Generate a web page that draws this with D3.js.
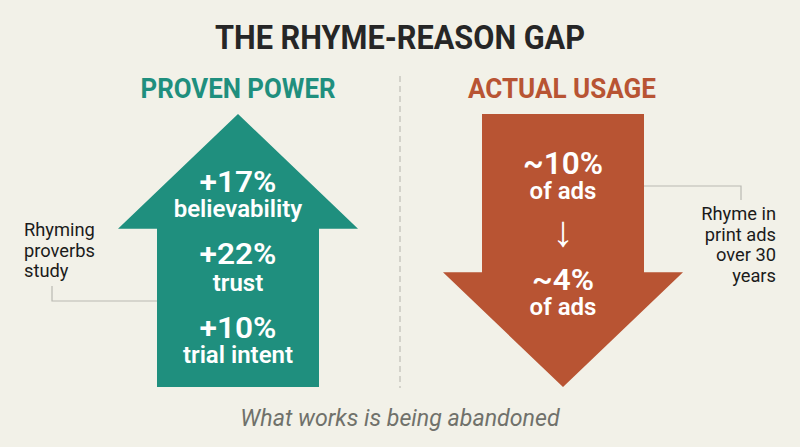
<!DOCTYPE html>
<html>
<head>
<meta charset="utf-8">
<script src="https://cdn.jsdelivr.net/npm/d3@7"></script>
<style>
  html, body { margin: 0; padding: 0; background: #f2f1e8; }
  svg { display: block; }
  text { font-family: Roboto, sans-serif; }
</style>
</head>
<body>
<div id="chart"></div>
<script>
// chart values
var powerValues = ["+17%", "+22%", "+10%"];
var powerLabels = ["believability", "trust", "trial intent"];
var usageValues = ["~10%", "~4%"];
var usageLabels = ["of ads", "of ads"];
var powerNote = ["Rhyming", "proverbs", "study"];
var usageNote = ["Rhyme in", "print ads", "over 30", "years"];

var width = 800, height = 447;
var teal = "#1f8f7e", rust = "#b85433", ink = "#1b1b1b";

var svg = d3.select("#chart").append("svg")
    .attr("width", width)
    .attr("height", height);

svg.append("rect")
    .attr("width", width)
    .attr("height", height)
    .attr("fill", "#f2f1e8");

// arrows live on a unit box: x -1..1 around the centre, y 0..1 tip to tail
var line = d3.line();

function drawArrow(cx, up, color) {
    var x = d3.scaleLinear().domain([-1, 1]).range([cx - 120, cx + 120]);
    var y = d3.scaleLinear().domain([0, 1]).range(up ? [114, 387] : [387, 114]);
    var stem = 0.675, neck = 0.42;
    var shape = [[0, 0], [1, neck], [stem, neck], [stem, 1], [-stem, 1], [-stem, neck], [-1, neck]];
    svg.append("path")
        .attr("d", line(shape.map(function(d) { return [x(d[0]), y(d[1])]; })) + "Z")
        .attr("fill", color);
}

function label(str, x, y, size, weight, color, anchor, fitWidth) {
    var t = svg.append("text")
        .attr("x", x)
        .attr("y", y)
        .attr("font-size", size)
        .attr("font-weight", weight)
        .attr("fill", color)
        .attr("text-anchor", anchor || "middle")
        .text(str);
    // the reference type is narrower/wider than plain Roboto, so squeeze it to fit
    if (fitWidth) t.attr("textLength", fitWidth).attr("lengthAdjust", "spacingAndGlyphs");
    return t;
}

// title + headings
label("THE RHYME-REASON GAP", 400, 49, 34, 700, "#262626", "middle", 370);
label("PROVEN POWER", 238, 98, 28, 700, teal, "middle", 195);
label("ACTUAL USAGE", 562, 98, 28, 700, rust, "middle", 188);

// divider
svg.append("line")
    .attr("x1", 400).attr("x2", 400)
    .attr("y1", 76).attr("y2", 388)
    .attr("stroke", "#c9c8c0")
    .attr("stroke-width", 1.5)
    .attr("stroke-dasharray", "6 4");

// leader lines
svg.append("path")
    .attr("d", line([[52, 286], [52, 301], [157, 301]]))
    .attr("fill", "none")
    .attr("stroke", "#b9b9b2")
    .attr("stroke-width", 1.2);
svg.append("path")
    .attr("d", line([[644, 186], [741, 186], [741, 200]]))
    .attr("fill", "none")
    .attr("stroke", "#b9b9b2")
    .attr("stroke-width", 1.2);

drawArrow(238, true, teal);
drawArrow(563, false, rust);

// left arrow text
var powerValueY = [192, 264, 338], powerLabelY = [217, 291, 363];
powerValues.forEach(function(d, i) {
    label(d, 238, powerValueY[i], 30, 600, "#ffffff", "middle", 77);
    label(powerLabels[i], 238, powerLabelY[i], 24, 600, "#ffffff");
});

// right arrow text
var usageValueY = [174, 290], usageLabelY = [199, 315], usageValueW = [80, 62];
usageValues.forEach(function(d, i) {
    label(d, 563, usageValueY[i], i === 0 ? 31 : 29, 600, "#ffffff", "middle", usageValueW[i]);
    label(usageLabels[i], 563, usageLabelY[i], 24, 600, "#ffffff");
});
label("\u2193", 563, 246, 43, 300, "#ffffff");

// side notes
var powerNoteY = [236, 257, 277], usageNoteY = [220, 241, 261, 282];
powerNote.forEach(function(d, i) {
    label(d, 24, powerNoteY[i], 18.3, 400, ink, "start");
});
usageNote.forEach(function(d, i) {
    label(d, 776, usageNoteY[i], 18.3, 400, ink, "end");
});

label("What works is being abandoned", 400, 426, 23.2, 400, "#70716b")
    .attr("font-style", "italic");
</script>
</body>
</html>
